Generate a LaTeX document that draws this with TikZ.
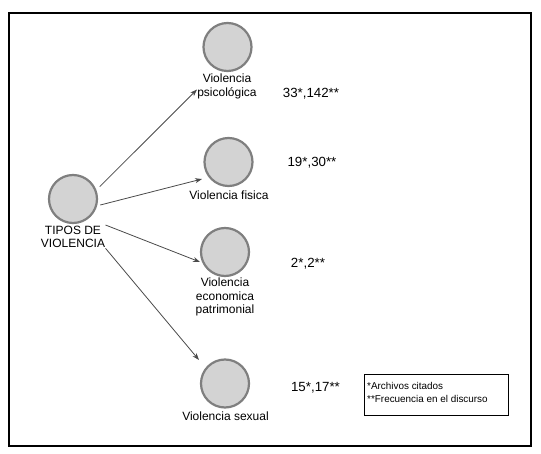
\documentclass[tikz,border=0pt]{standalone}
\usepackage{fontspec}
\setmainfont{Liberation Sans}
\usetikzlibrary{arrows.meta}
\definecolor{ringc}{HTML}{7F7F7F}
\definecolor{fillc}{HTML}{D3D3D3}
\definecolor{arrc}{HTML}{4A4A4A}
\begin{document}
\begin{tikzpicture}[x=1pt,y=-1pt,
  circ/.style={circle,draw=ringc,fill=fillc,line width=2.2pt,minimum size=48pt,inner sep=0pt},
  lbl/.style={align=center,inner sep=0pt,font=\fontsize{12}{13.3}\selectfont},
  num/.style={inner sep=0pt,font=\fontsize{13.3}{15}\selectfont},
  conn/.style={draw=arrc,line width=0.8pt,-{Stealth[length=7pt,width=5pt]}},
  leg/.style={anchor=west,inner sep=0pt,font=\fontsize{9.9}{11}\selectfont}]
\useasboundingbox (0,0) rectangle (541,454);
\fill[white] (0,0) rectangle (541,454);
\node[draw=black,line width=2pt,minimum width=522.5pt,minimum height=433pt,inner sep=0pt,anchor=north west] (frame) at (7.5,12) {};

\node[circ] (tipos) at (73,199) {};
\node[lbl] (tiposl) at (73,237) {TIPOS DE\\VIOLENCIA};

\node[circ] (psico) at (227.5,47) {};
\node[lbl] (psicol) at (227,86.5) {Violencia\\psicológica};
\node[num] (psicon) at (311,94) {33*,142**};

\node[circ] (fisica) at (228.5,162) {};
\node[lbl] (fisical) at (229,195) {Violencia fisica};
\node[num] (fisican) at (312,163) {19*,30**};

\node[circ] (econ) at (225,252) {};
\node[lbl] (econl) at (225,297) {Violencia\\economica\\patrimonial};
\node[num] (econn) at (308,264) {2*,2**};

\node[circ] (sexual) at (225,383.5) {};
\node[lbl] (sexuall) at (225.5,416) {Violencia sexual};
\node[num] (sexualn) at (315.5,388) {15*,17**};

\node[draw=black,line width=0.8pt,minimum width=144pt,minimum height=41pt,inner sep=0pt,anchor=north west] (legend) at (363.5,374) {};
\node[leg] (leg1) at (367,386) {*Archivos citados};
\node[leg] (leg2) at (367,399) {**Frecuencia en el discurso};

\coordinate (s1) at (99.7,186.7);
\coordinate (e1) at (197,89.5);
\coordinate (s2) at (100.3,205);
\coordinate (e2) at (202,179);
\coordinate (s3) at (105.5,225);
\coordinate (e3) at (200,262);
\coordinate (s4) at (105.5,248.3);
\coordinate (e4) at (199,360);
\draw[conn] (s1) -- (e1);
\draw[conn] (s2) -- (e2);
\draw[conn] (s3) -- (e3);
\draw[conn] (s4) -- (e4);
\end{tikzpicture}
\end{document}
